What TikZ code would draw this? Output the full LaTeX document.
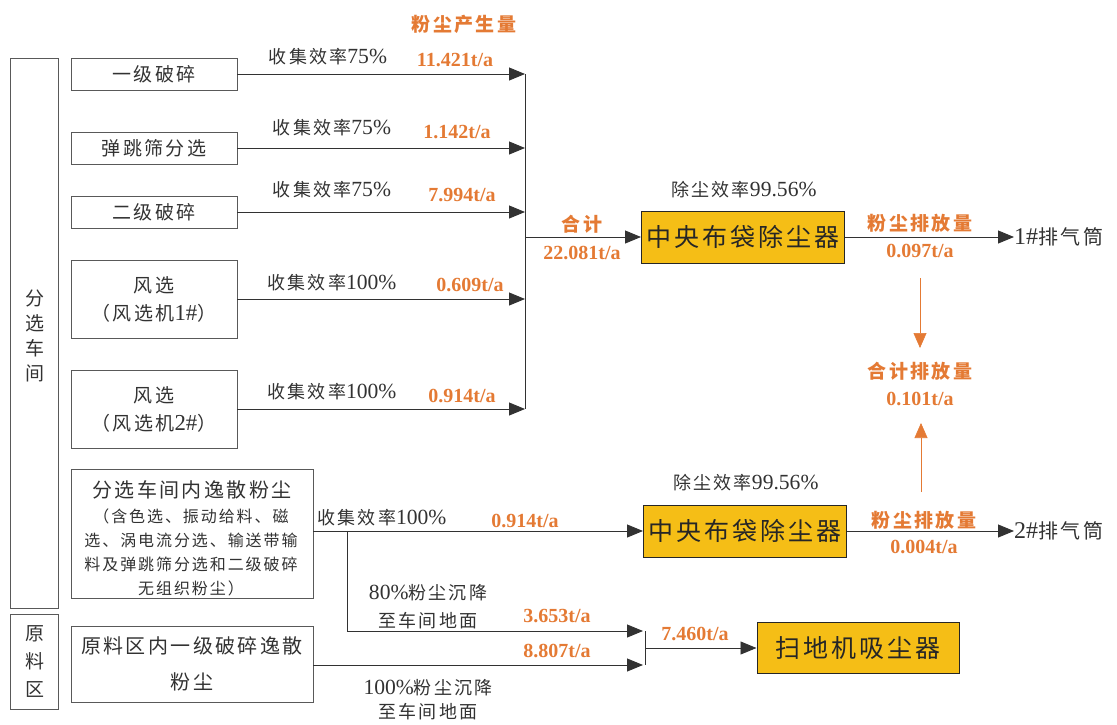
\documentclass[tikz,border=0pt]{standalone}
\usepackage{fontspec}
\setmainfont{Liberation Serif}
\newfontfamily\zhf{Noto Sans CJK SC}[LetterSpace=12]
\newfontfamily\latf{Liberation Serif}[Scale=1.2]
\usetikzlibrary{arrows.meta}
\definecolor{gold}{RGB}{245,190,22}
\definecolor{orng}{RGB}{228,122,52}
\definecolor{ink}{RGB}{50,50,50}
\newcommand\Lt[1]{{\latf #1}}
\begin{document}
\begin{tikzpicture}[x=1pt,y=-1pt,
  box/.style={draw=black!65, line width=0.9pt, minimum width=166pt, inner sep=0pt, align=center, text=ink, font=\zhf\fontsize{19}{28}\selectfont},
  sbox/.style={draw=black!65, line width=0.9pt, minimum width=242pt, inner sep=0pt, align=center, text=ink},
  frame/.style={draw=black!65, line width=0.9pt, minimum width=48pt, inner sep=0pt},
  ybox/.style={draw=black!85, fill=gold, line width=1pt, minimum width=203pt, minimum height=52pt, inner sep=0pt, text=black!85, font=\zhf\fontsize{25}{30}\selectfont},
  lbl/.style={text=ink, inner sep=0pt, align=center, font=\zhf\fontsize{18}{28}\selectfont},
  num/.style={text=orng, inner sep=0pt, font=\bfseries\fontsize{20}{22}\selectfont},
  ttl/.style={text=orng, inner sep=0pt, font=\zhf\bfseries\fontsize{19}{22}\selectfont},
  ln/.style={draw=ink, line width=0.9pt},
  arr/.style={ln, -{Triangle[length=16pt,width=13pt]}},
  oarr/.style={draw=orng, line width=0.6pt, -{Triangle[length=15pt,width=13pt]}, orng}
]
\useasboundingbox (0,0) rectangle (1117,724);

% side frames
\node[frame, minimum height=550pt] (ws) at (34,333) {};
\node[lbl, font=\zhf\fontsize{19}{25}\selectfont] (wst) at (35,336) {分\\选\\车\\间};
\node[frame, minimum height=95pt] (rw) at (34,661.5) {};
\node[lbl, font=\zhf\fontsize{19}{28}\selectfont] (rwt) at (35,662) {原\\料\\区};

% source boxes
\node[box, minimum height=32pt] (b1) at (154,74) {一级破碎};
\node[box, minimum height=32pt] (b2) at (154,148) {弹跳筛分选};
\node[box, minimum height=32pt] (b3) at (154,212) {二级破碎};
\node[box, minimum height=78pt] (b4) at (154,299) {风选\\（风选机\Lt{1\#}）};
\node[box, minimum height=78pt] (b5) at (154,409) {风选\\（风选机\Lt{2\#}）};
\node[sbox, minimum height=129pt] (b6) at (192,533.5) {};
\node[lbl, font=\zhf\fontsize{20}{24}\selectfont] (b6a) at (192,490) {分选车间内逸散粉尘};
\node[lbl, font=\zhf\fontsize{16}{24}\selectfont] (b6b) at (191,552) {（含色选、振动给料、磁\\选、涡电流分选、输送带输\\料及弹跳筛分选和二级破碎\\无组织粉尘）};
\node[sbox, minimum height=76pt, font=\zhf\fontsize{20}{36}\selectfont] (b7) at (192,664) {原料区内一级破碎逸散\\粉尘};

% collectors
\node[ybox] (c1) at (743,237) {中央布袋除尘器};
\node[ybox] (c2) at (745,531) {中央布袋除尘器};
\node[ybox, minimum width=202pt, minimum height=51pt] (sw) at (858,648) {扫地机吸尘器};

% bus
\coordinate (bus1) at (525,74);
\coordinate (bus5) at (525,409);
\coordinate (busm) at (525,237);
\draw[arr] (b1.east) -- (b1.east -| bus1);
\draw[arr] (b2.east) -- (b2.east -| bus1);
\draw[arr] (b3.east) -- (b3.east -| bus1);
\draw[arr] (b4.east) -- (b4.east -| bus1);
\draw[arr] (b5.east) -- (b5.east -| bus1);
\draw[ln] (bus1) -- (bus5);
\draw[arr] (busm) -- (c1.west);

% labels on source arrows
\node[ttl] (t0) at (464,24) {粉尘产生量};
\node[lbl] (l1) at (328,57) {收集效率\Lt{75\%}};
\node[lbl] (l2) at (332,128) {收集效率\Lt{75\%}};
\node[lbl] (l3) at (332,190) {收集效率\Lt{75\%}};
\node[lbl] (l4) at (332,283) {收集效率\Lt{100\%}};
\node[lbl] (l5) at (332,392) {收集效率\Lt{100\%}};
\node[num] (n1) at (455,60) {11.421t/a};
\node[num] (n2) at (457,132) {1.142t/a};
\node[num] (n3) at (462,195) {7.994t/a};
\node[num] (n4) at (470,285) {0.609t/a};
\node[num] (n5) at (462,396) {0.914t/a};
\node[ttl] (hj) at (582,224) {合计};
\node[num] (hjn) at (582,253) {22.081t/a};

% upper outlet
\node[lbl] (e1) at (744,190) {除尘效率\Lt{99.56\%}};
\node[lbl, anchor=west, font=\zhf\fontsize{20}{24}\selectfont] (s1) at (1014,237) {\Lt{1\#}排气筒};
\draw[arr] (c1.east) -- (s1.west);
\node[ttl] (p1) at (920,223) {粉尘排放量};
\node[num] (p1n) at (920,251) {0.097t/a};

% total
\coordinate (d1s) at (920,278);
\coordinate (d1e) at (920,348);
\draw[oarr] (d1s) -- (d1e);
\node[ttl] (tot) at (920,371) {合计排放量};
\node[num] (totn) at (920,399) {0.101t/a};
\coordinate (u1s) at (921,492);
\coordinate (u1e) at (921,423);
\draw[oarr] (u1s) -- (u1e);

% lower outlet
\node[lbl] (e2) at (746,483) {除尘效率\Lt{99.56\%}};
\draw[arr] (b6.east |- c2) -- (c2.west);
\node[lbl] (l6) at (382,518) {收集效率\Lt{100\%}};
\node[num] (n6) at (525,521) {0.914t/a};
\node[lbl, anchor=west, font=\zhf\fontsize{20}{24}\selectfont] (s2) at (1014,531) {\Lt{2\#}排气筒};
\draw[arr] (c2.east) -- (s2.west);
\node[ttl] (p2) at (924,520) {粉尘排放量};
\node[num] (p2n) at (924,547) {0.004t/a};

% settling branches
\coordinate (br) at (347,531);
\coordinate (m1) at (643,631);
\coordinate (m2) at (643,665);
\coordinate (mt) at (645,631);
\coordinate (mb) at (645,665);
\coordinate (mj) at (645,648);
\draw[arr] (br) |- (m1);
\draw[arr] (b7.east |- m2) -- (m2);
\draw[ln] (mt) -- (mb);
\draw[arr] (mj) -- (sw.west);
\node[lbl] (s80) at (428,593) {\Lt{80\%}粉尘沉降};
\node[lbl] (s80b) at (428,621) {至车间地面};
\node[num] (n7) at (557,616) {3.653t/a};
\node[num] (n8) at (557,651) {8.807t/a};
\node[lbl] (s100) at (428,688) {\Lt{100\%}粉尘沉降};
\node[lbl] (s100b) at (428,712) {至车间地面};
\node[num] (n9) at (695,634) {7.460t/a};
\end{tikzpicture}
\end{document}
